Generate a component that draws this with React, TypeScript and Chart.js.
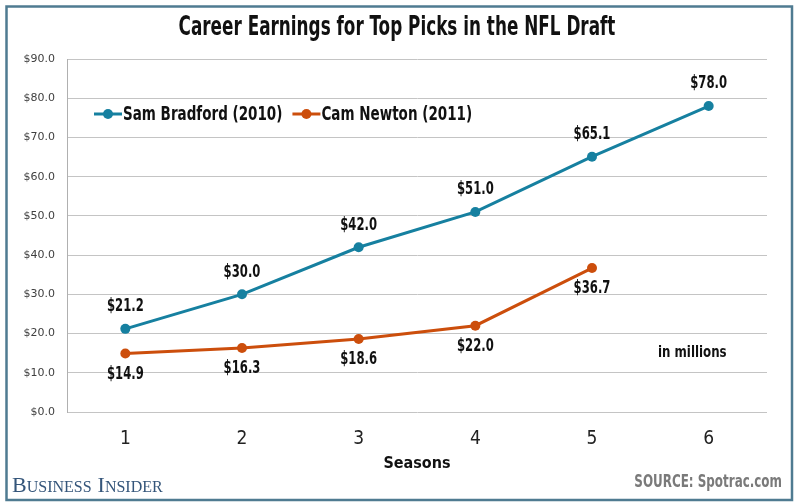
import React, { useEffect, useRef } from "react";
import { Chart, registerables } from "chart.js";

Chart.register(...registerables);

const seasons = ["1", "2", "3", "4", "5", "6"];
const bradford = [21.2, 30.0, 42.0, 51.0, 65.1, 78.0];
const newton = [14.9, 16.3, 18.6, 22.0, 36.7, null];
const seriesNames = ["Sam Bradford (2010)", "Cam Newton (2011)"];
const yMin = 0;
const yMax = 90;
const yStep = 10;
const titleText = "Career Earnings for Top Picks in the NFL Draft";
const xTitle = "Seasons";
const unitNote = "in millions";
const sourceText = "SOURCE: Spotrac.com";
const brandText = "BUSINESS INSIDER";

const BLUE = "#1680a0";
const ORANGE = "#cc4e0c";
const NARROW = "'Liberation Sans Narrow', 'Arial Narrow', 'DejaVu Sans Condensed', sans-serif";

const fmt = (v: number) => "$" + v.toFixed(1);

// draw text horizontally condensed by factor sx
function drawCond(ctx: CanvasRenderingContext2D, text: string, x: number, y: number, sx: number) {
  ctx.save();
  ctx.translate(x, y);
  ctx.scale(sx, 1);
  ctx.fillText(text, 0, 0);
  ctx.restore();
}

const decorPlugin = {
  id: "decor",
  afterDraw(chart: any) {
    const ctx = chart.ctx as CanvasRenderingContext2D;
    ctx.save();
    // frame
    ctx.strokeStyle = "#4f7b91";
    ctx.lineWidth = 2.5;
    ctx.strokeRect(6.5, 6.5, 785.5, 493.5);

    // title
    ctx.fillStyle = "#111";
    ctx.textAlign = "center";
    ctx.textBaseline = "middle";
    ctx.font = `bold 26px ${NARROW}`;
    drawCond(ctx, titleText, 397, 28, 0.72);

    // data labels
    ctx.font = `bold 17px ${NARROW}`;
    const LC = 0.76;
    const m0 = chart.getDatasetMeta(0);
    m0.data.forEach((p: any, i: number) => {
      const v = bradford[i];
      if (v == null) return;
      drawCond(ctx, fmt(v), p.x, p.y - 22, LC);
    });
    const m1 = chart.getDatasetMeta(1);
    m1.data.forEach((p: any, i: number) => {
      const v = newton[i];
      if (v == null) return;
      drawCond(ctx, fmt(v), p.x, p.y + 21, LC);
    });

    // legend
    const colors = [BLUE, ORANGE];
    const GC = 0.79;
    let lx = 94;
    const ly = 114;
    ctx.font = `bold 19px ${NARROW}`;
    ctx.textAlign = "left";
    seriesNames.forEach((name, i) => {
      ctx.strokeStyle = colors[i];
      ctx.lineWidth = 3;
      ctx.beginPath();
      ctx.moveTo(lx, ly);
      ctx.lineTo(lx + 28, ly);
      ctx.stroke();
      ctx.fillStyle = colors[i];
      ctx.beginPath();
      ctx.arc(lx + 14, ly, 5, 0, Math.PI * 2);
      ctx.fill();
      ctx.fillStyle = "#111";
      drawCond(ctx, name, lx + 29, ly + 1, GC);
      lx += 29 + ctx.measureText(name).width * GC + 10;
    });

    // unit note
    ctx.font = `bold 16px ${NARROW}`;
    drawCond(ctx, unitNote, 658, 353, 0.82);

    // source
    ctx.font = `bold 17px ${NARROW}`;
    ctx.fillStyle = "#7a7a7a";
    ctx.textAlign = "right";
    drawCond(ctx, sourceText, 782, 483, 0.78);

    // brand (small caps)
    ctx.fillStyle = "#34557a";
    ctx.textAlign = "left";
    ctx.textBaseline = "alphabetic";
    let bx = 12;
    const words = brandText.split(" ");
    words.forEach((w, wi) => {
      ctx.font = `22px 'Liberation Serif', 'DejaVu Serif', serif`;
      ctx.fillText(w[0], bx, 492);
      bx += ctx.measureText(w[0]).width;
      ctx.font = `16px 'Liberation Serif', 'DejaVu Serif', serif`;
      const rest = w.slice(1);
      ctx.fillText(rest, bx, 492);
      bx += ctx.measureText(rest).width;
      if (wi < words.length - 1) bx += 6;
    });
    ctx.restore();
  },
};

export default function App() {
  const ref = useRef<HTMLCanvasElement | null>(null);
  useEffect(() => {
    if (!ref.current) return;
    const chart = new Chart(ref.current, {
      type: "line",
      data: {
        labels: seasons,
        datasets: [
          {
            label: seriesNames[0],
            data: bradford,
            borderColor: BLUE,
            backgroundColor: BLUE,
            borderWidth: 3,
            pointRadius: 5,
            pointBackgroundColor: BLUE,
            pointBorderWidth: 0,
            tension: 0,
          },
          {
            label: seriesNames[1],
            data: newton,
            borderColor: ORANGE,
            backgroundColor: ORANGE,
            borderWidth: 3,
            pointRadius: 5,
            pointBackgroundColor: ORANGE,
            pointBorderWidth: 0,
            tension: 0,
          },
        ],
      },
      options: {
        animation: false,
        responsive: false,
        events: [],
        layout: { padding: { left: 0, right: 33, top: 59, bottom: 0 } },
        plugins: { legend: { display: false }, title: { display: false }, tooltip: { enabled: false } },
        scales: {
          x: {
            offset: true,
            grid: { display: false, drawTicks: false },
            border: { display: false },
            ticks: { color: "#222", font: { family: NARROW, size: 19 }, padding: 16 },
            title: { display: true, text: xTitle, color: "#111", font: { family: NARROW, size: 16, weight: "bold" }, padding: { top: 0, bottom: 31 } },
            afterFit: (s: any) => { s.height = 92; },
          },
          y: {
            min: yMin,
            max: yMax,
            grid: { color: "#c4c4c4", lineWidth: 1, drawTicks: false },
            border: { display: true, color: "#b0b0b0" },
            ticks: {
              stepSize: yStep,
              color: "#404040",
              padding: 12,
              font: { family: "'DejaVu Sans', sans-serif", size: 11 },
              callback: (v: any) => fmt(Number(v)),
            },
            afterFit: (s: any) => { s.width = 67; },
          },
        },
      },
      plugins: [decorPlugin],
    });
    return () => chart.destroy();
  }, []);
  return (
    <div style={{ position: "fixed", left: 0, top: 0, width: 800, height: 504, background: "#fff" }}>
      <canvas ref={ref} width={800} height={504} style={{ display: "block" }} />
    </div>
  );
}
